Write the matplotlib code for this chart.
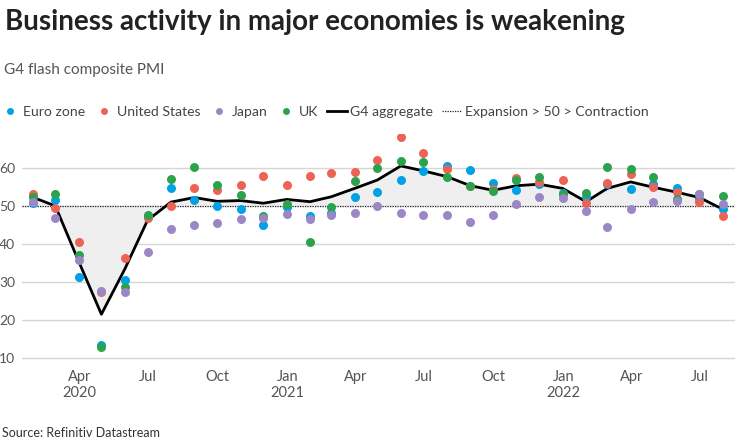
import numpy as np
import pandas as pd
import matplotlib
matplotlib.use("Agg")
import matplotlib.pyplot as plt
from matplotlib.lines import Line2D

plt.rcParams["font.family"] = ["Lato", "DejaVu Sans"]

# Monthly flash composite PMI, Jan 2020 - Jul 2022 (plotted at month end)
months = pd.date_range("2020-01-31", "2022-07-31", freq="ME")

euro_zone = [50.9, 51.6, 31.4, 13.6, 30.5, 47.5, 54.8, 51.6, 50.1, 49.4,
             45.1, 49.8, 47.5, 48.1, 52.5, 53.7, 56.9, 59.2, 60.6, 59.5,
             56.1, 54.3, 55.8, 53.4, 52.4, 55.8, 54.5, 55.8, 54.9, 51.9, 49.4]
united_states = [53.1, 49.6, 40.5, 27.4, 36.4, 46.8, 50.0, 54.7, 54.4, 55.5,
                 57.9, 55.7, 58.0, 58.8, 59.1, 62.2, 68.1, 63.9, 59.7, 55.4,
                 54.5, 57.3, 56.5, 57.0, 50.8, 56.0, 58.5, 55.1, 53.8, 51.2, 47.5]
japan = [51.1, 47.0, 35.8, 27.8, 27.4, 37.9, 43.9, 45.0, 45.5, 46.7,
         47.0, 48.0, 46.7, 47.6, 48.3, 50.1, 48.1, 47.8, 47.7, 45.9,
         47.7, 50.7, 52.5, 52.1, 48.8, 44.6, 49.3, 51.1, 51.4, 53.2, 50.6]
uk = [52.4, 53.3, 37.1, 12.9, 28.9, 47.6, 57.1, 60.3, 55.7, 52.9,
      47.4, 50.7, 40.6, 49.8, 56.6, 60.0, 62.0, 61.7, 57.7, 55.3,
      54.1, 56.8, 57.7, 53.2, 53.4, 60.2, 59.7, 57.6, 51.8, 53.1, 52.8]
g4_aggregate = [52.3, 50.1, 35.5, 21.6, 33.5, 46.3, 51.1, 52.3, 51.3, 51.5,
                50.8, 51.8, 51.2, 52.5, 54.7, 56.9, 60.6, 59.3, 57.8, 55.4,
                54.2, 55.4, 55.8, 54.7, 51.2, 54.7, 56.4, 55.0, 53.7, 52.3, 49.2]

tick_dates = pd.date_range("2020-04-01", "2022-07-01", freq="QS")
tick_labels = [d.strftime("%b") + ("\n" + d.strftime("%Y") if d.month == 1 or d == tick_dates[0] else "")
               for d in tick_dates]

colors = {
    "Euro zone": "#00a2e5",
    "United States": "#ec6356",
    "Japan": "#9b87c6",
    "UK": "#2ca24c",
}

fig = plt.figure(figsize=(7.36, 4.46), dpi=100)
ax = fig.add_axes([22 / 736, 1 - 366 / 446, 713 / 736, (366 - 134) / 446])

agg = np.array(g4_aggregate)
ax.fill_between(months, agg, 50, color="#efefef", linewidth=0, zorder=1)
ax.axhline(50, color="#222222", linestyle=(0, (1, 1)), linewidth=0.9, zorder=2)
ax.plot(months, agg, color="black", linewidth=2, zorder=3)

series = [("Euro zone", euro_zone), ("United States", united_states),
          ("UK", uk), ("Japan", japan)]
for name, vals in series:
    ax.scatter(months, vals, s=42, color=colors[name], linewidths=0, zorder=4)

ax.set_xlim(pd.Timestamp("2020-01-16"), pd.Timestamp("2022-08-16"))
ax.set_ylim(8, 69)
ax.set_yticks([10, 20, 30, 40, 50, 60])
ax.yaxis.grid(True, color="#d6d6d6", linewidth=1)
ax.set_axisbelow(True)
ax.set_xticks(tick_dates)
ax.set_xticklabels(tick_labels, fontsize=10.5)
ax.tick_params(axis="both", length=0, labelcolor="#555555")
ax.tick_params(axis="x", pad=3)
ax.tick_params(axis="y", pad=5, labelsize=10)
for s in ax.spines.values():
    s.set_visible(False)

fig.text(5 / 736, 1 - 22 / 446, "Business activity in major economies is weakening",
         fontsize=20, fontweight="bold", color="#222222", va="center")
fig.text(4 / 736, 1 - 70 / 446, "G4 flash composite PMI",
         fontsize=11, color="#555555", va="center")
fig.text(2 / 736, 1 - 433 / 446, "Source: Refinitiv Datastream",
         fontsize=9, color="#333333", va="center")

handles = [Line2D([], [], marker="o", linestyle="", markersize=5, color=colors[n],
                  markeredgewidth=0) for n in colors]
handles.append(Line2D([], [], color="black", linewidth=2))
handles.append(Line2D([], [], color="#222222", linestyle=(0, (1, 1)), linewidth=0.9))
labels = list(colors) + ["G4 aggregate", "Expansion > 50 > Contraction"]
fig.legend(handles, labels, loc="center left", bbox_to_anchor=(0, 1 - 112 / 446),
           ncol=6, frameon=False, fontsize=10.1, handlelength=1.4, handletextpad=0.25,
           columnspacing=0.6, borderpad=0, borderaxespad=0, labelcolor="#444444")

fig.savefig("out.png", dpi=100)
